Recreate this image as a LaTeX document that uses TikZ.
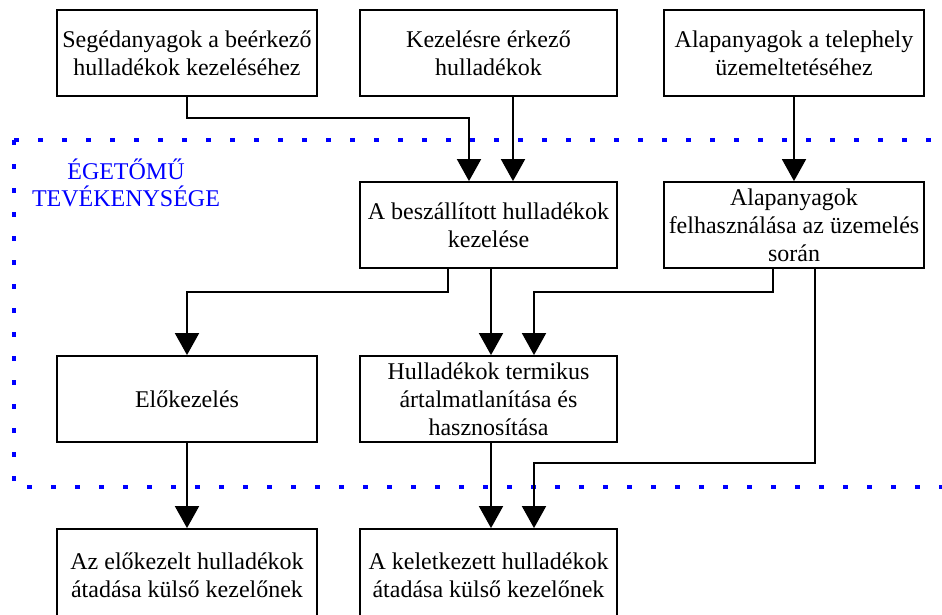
\documentclass[tikz,border=0pt]{standalone}
\usepackage{fontspec}
\setmainfont{Liberation Serif}
\usetikzlibrary{arrows.meta}
\begin{document}
\begin{tikzpicture}[x=1pt,y=-1pt,
  box/.style={draw=black, line width=1.8pt, minimum width=260pt, minimum height=86pt,
    align=center, inner sep=2pt, font=\fontsize{24}{28}\selectfont},
  arr/.style={draw=black, line width=1.8pt, -{Triangle[width=24pt,length=22pt]}},
  zone/.style={draw={rgb,255:red,0;green,0;blue,255}, line width=4.5pt, dash pattern=on 4.5pt off 19.5pt, line cap=butt}]
\useasboundingbox (0,0) rectangle (942,614);
% dotted zone
\draw[zone] (14,140) -- (960,140);
\draw[zone] (14,140) -- (14,487) -- (960,487);
\node[text={rgb,255:red,0;green,0;blue,255}, align=center, font=\fontsize{24}{27}\selectfont] (zlabel) at (126,183) {ÉGETŐMŰ\\TEVÉKENYSÉGE};
% boxes
\node[box] (seg) at (187,53) {Segédanyagok a beérkező\\hulladékok kezeléséhez};
\node[box, minimum width=257pt] (kez) at (488.5,53) {Kezelésre érkező\\hulladékok};
\node[box] (alapA) at (794,53) {Alapanyagok a telephely\\üzemeltetéséhez};
\node[box, minimum width=257pt] (besz) at (488.5,225) {A beszállított hulladékok\\kezelése};
\node[box] (alapB) at (794,225) {Alapanyagok\\felhasználása az üzemelés\\során};
\node[box] (elok) at (187,399) {Előkezelés};
\node[box, minimum width=257pt] (term) at (488.5,399) {Hulladékok termikus\\ártalmatlanítása és\\hasznosítása};
\node[box, minimum height=92pt] (elokAt) at (187,575) {Az előkezelt hulladékok\\átadása külső kezelőnek};
\node[box, minimum width=257pt, minimum height=92pt] (kel) at (488.5,575) {A keletkezett hulladékok\\átadása külső kezelőnek};
% helper coordinates
\coordinate (j1) at (187,118);
\coordinate (j2) at (469,118);
\coordinate (j3) at (187,292);
\coordinate (j4) at (534,292);
\coordinate (j5) at (534,463);
% connectors
\draw[arr] (seg.south) -- (j1) -- (j2) -- (besz.north -| j2);
\draw[arr] ([xshift=24.5pt]kez.south) -- ([xshift=24.5pt]besz.north);
\draw[arr] (alapA.south) -- (alapB.north);
\draw[arr] ([xshift=-40.5pt]besz.south) |- (j3) -- (elok.north);
\draw[arr] ([xshift=2.5pt]besz.south) -- ([xshift=2.5pt]term.north);
\draw[arr] ([xshift=-21pt]alapB.south) |- (j4) -- (term.north -| j4);
\draw[arr] ([xshift=21pt]alapB.south) |- (j5) -- (kel.north -| j5);
\draw[arr] ([xshift=2.5pt]term.south) -- ([xshift=2.5pt]kel.north);
\draw[arr] (elok.south) -- (elokAt.north);
\end{tikzpicture}
\end{document}
